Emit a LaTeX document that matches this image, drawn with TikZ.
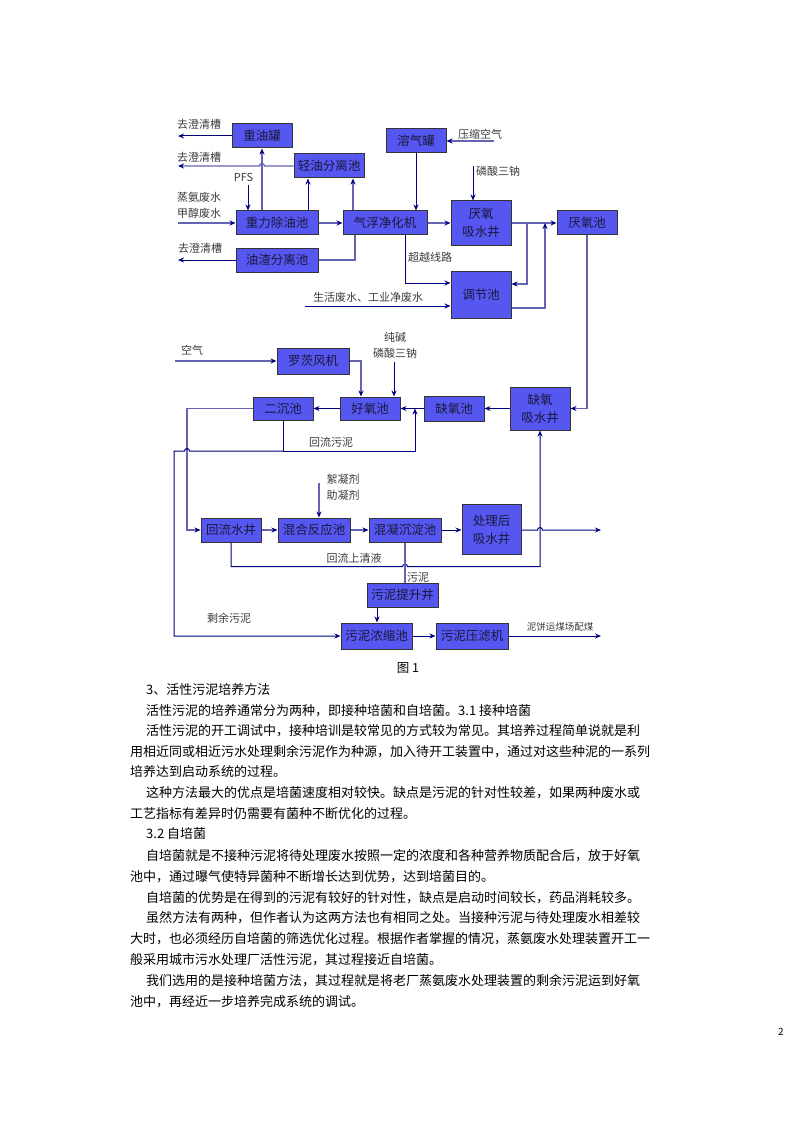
\documentclass[tikz,border=0pt]{standalone}
\usepackage{fontspec}
\setmainfont{Noto Sans CJK SC}
\usetikzlibrary{arrows.meta}
\XeTeXlinebreaklocale "zh"
\XeTeXlinebreakskip=0pt plus 3pt minus 1pt
\definecolor{boxfill}{RGB}{86,86,240}
\definecolor{navy}{RGB}{0,0,128}
\definecolor{lnav}{RGB}{100,100,176}
\definecolor{lbl}{RGB}{60,60,60}
\definecolor{boxtxt}{RGB}{25,25,60}
\tikzset{
 box/.style={draw=black!80, line width=1pt, fill=boxfill, text=boxtxt, font=\fontsize{12.5}{18}\selectfont, inner sep=0pt, align=center},
 flow/.style={draw=navy, line width=1pt},
 flowl/.style={draw=lnav, line width=1.3pt},
 arr/.style={-{Stealth[length=6pt,width=5pt,color=navy]}},
 lab/.style={text=lbl, font=\fontsize{11}{16}\selectfont, inner sep=0pt},
 body/.style={font=\fontsize{13}{15}\selectfont, anchor=west, inner sep=0pt},
}
\begin{document}
\begin{tikzpicture}[x=1pt,y=-1pt]
\fill[white] (0,0) rectangle (794,1123);
\useasboundingbox (0,0) rectangle (794,1123);

% ---------- boxes ----------
\node[box, minimum width=60pt, minimum height=24pt] (zyg) at (262,136) {重油罐};
\node[box, minimum width=70pt, minimum height=24pt] (qyf) at (329,166) {轻油分离池};
\node[box, minimum width=82pt, minimum height=24pt] (zlc) at (277,223) {重力除油池};
\node[box, minimum width=84pt, minimum height=24pt] (qfj) at (385,223) {气浮净化机};
\node[box, minimum width=82pt, minimum height=24pt] (yzf) at (277,260) {油渣分离池};
\node[box, minimum width=60pt, minimum height=24pt] (rqg) at (416,141) {溶气罐};
\node[box, minimum width=60pt, minimum height=44pt] (yxs) at (481,223) {厌氧\\吸水井};
\node[box, minimum width=60pt, minimum height=24pt] (yyc) at (587,223) {厌氧池};
\node[box, minimum width=60pt, minimum height=47pt] (tjc) at (481,294.5) {调节池};

\node[box, minimum width=72pt, minimum height=26pt] (lfj) at (313,361) {罗茨风机};
\node[box, minimum width=60pt, minimum height=23pt] (ecc) at (283,408.5) {二沉池};
\node[box, minimum width=60pt, minimum height=23pt] (hyc) at (370,408.5) {好氧池};
\node[box, minimum width=60pt, minimum height=25pt] (qyc) at (454,408.5) {缺氧池};
\node[box, minimum width=60pt, minimum height=43pt] (qxs) at (540,408.5) {缺氧\\吸水井};

\node[box, minimum width=60pt, minimum height=24pt] (hls) at (231,530) {回流水井};
\node[box, minimum width=72pt, minimum height=24pt] (hhf) at (314,530) {混合反应池};
\node[box, minimum width=72pt, minimum height=24pt] (hnc) at (405,530) {混凝沉淀池};
\node[box, minimum width=59pt, minimum height=50pt] (clh) at (491.5,529.5) {处理后\\吸水井};
\node[box, minimum width=71pt, minimum height=24pt] (wnt) at (402.5,595) {污泥提升井};
\node[box, minimum width=71pt, minimum height=26pt] (wnn) at (376.5,636) {污泥浓缩池};
\node[box, minimum width=72pt, minimum height=26pt] (wny) at (472,636) {污泥压滤机};

% ---------- labels ----------
\node[lab] (l1) at (199,124) {去澄清槽};
\node[lab] (l2) at (199,157) {去澄清槽};
\node[lab] (l3) at (243.5,177) {PFS};
\node[lab, align=left] (l4) at (199,205) {蒸氨废水\\甲醇废水};
\node[lab] (l5) at (200,248) {去澄清槽};
\node[lab] (l6) at (480,134) {压缩空气};
\node[lab] (l7) at (498,171) {磷酸三钠};
\node[lab] (l8) at (430,257) {超越线路};
\node[lab] (l9) at (368,297) {生活废水、工业净废水};
\node[lab] (l10) at (192,350) {空气};
\node[lab, align=center] (l11) at (395,345) {纯碱\\磷酸三钠};
\node[lab] (l12) at (331,442) {回流污泥};
\node[lab, align=center] (l13) at (343,487) {絮凝剂\\助凝剂};
\node[lab] (l14) at (354,558) {回流上清液};
\node[lab] (l15) at (418,577) {污泥};
\node[lab] (l16) at (229,618) {剩余污泥};
\node[lab, font=\fontsize{9.5}{11}\selectfont] (l17) at (560,627) {泥饼运煤场配煤};

% ---------- free ends / bends ----------
\coordinate (e1) at (178,136);
\coordinate (e2) at (178,166);
\coordinate (s3) at (248,185);
\coordinate (s4) at (178,223);
\coordinate (e5) at (178,260);
\coordinate (s6) at (494,141);
\coordinate (s7) at (473,166);
\coordinate (s9) at (305,306);
\coordinate (j1) at (527,223);
\coordinate (j2) at (527,284);
\coordinate (j3) at (545,308);
\coordinate (j4) at (545,223);
\coordinate (j5) at (405,283);
\coordinate (j6) at (587,408.5);
\coordinate (s10) at (175,361);
\coordinate (j7) at (361,361);
\coordinate (s11) at (394,362);
\coordinate (j8) at (187,408.5);
\coordinate (j9) at (187,530);
\coordinate (j10) at (283,451);
\coordinate (j11) at (415,451);
\coordinate (j12) at (174,451);
\coordinate (j13) at (174,636);
\coordinate (e6) at (601,530);
\coordinate (s12) at (319,483);
\coordinate (j14) at (231,566.7);
\coordinate (j15) at (540,566.7);
\coordinate (e7) at (601,636);

% ---------- connectors: top ----------
\draw[flow,arr] (zyg.west) -- (e1);
\draw[flowl,arr] (qyf.west) -- (264.5,166) arc[start angle=0,end angle=-180,radius=2.5] -- (e2);
\draw[flow,arr] (s3) -- (s3 |- zlc.north);
\draw[flowl,arr] (zyg.south |- zlc.north) -- (zyg.south);
\draw[flow,arr] ([xshift=31pt]zlc.north) -- ([xshift=31pt]zlc.north |- qyf.south);
\draw[flowl,arr] (s4) -- (zlc.west);
\draw[flowl,arr] (zlc.east) -- (qfj.west);
\draw[flowl,arr] ([xshift=-32pt]qfj.north) -- ([xshift=-32pt]qfj.north |- qyf.south);
\draw[flowl] ([xshift=-30pt]qfj.south) |- (yzf.east);
\draw[flow,arr] (yzf.west) -- (e5);
\draw[flow,arr] (rqg.south) -- (rqg.south |- qfj.north);
\draw[flowl,arr] (s6) -- (s6 -| rqg.east);
\draw[flow,arr] (s7) -- (s7 |- yxs.north);
\draw[flowl,arr] (qfj.east) -- (yxs.west);
\draw[flowl,arr] (yxs.east) -- (yyc.west);
\draw[flowl,arr] (j1) -- (j2) -- (j2 -| tjc.east);
\draw[flowl,arr] (j3 -| tjc.east) -- (j3) -- (j4);
\draw[flow,arr] (j5 |- qfj.south) -- (j5) -- (j5 -| tjc.west);
\draw[flow,arr] (s9) -- (s9 -| tjc.west);
\draw[flowl,arr] (yyc.south) -- (j6) -- (qxs.east);

% ---------- connectors: middle ----------
\draw[flowl,arr] (s10) -- (lfj.west);
\draw[flowl,arr] (lfj.east) -- (j7) -- (j7 |- hyc.north);
\draw[flow,arr] (s11) -- (s11 |- hyc.north);
\draw[flow,arr] (qxs.west) -- (qyc.east);
\draw[flow,arr] (qyc.west) -- (hyc.east);
\draw[flow,arr] (hyc.west) -- (ecc.east);
\draw[flowl,arr] (ecc.west) -- (j8) -- (j9) -- (hls.west);
\draw[flow,arr] (ecc.south) -- (j10) -- (j11) -- (j11 |- hyc.east);
\draw[flow,arr] (j10) -- (189.5,451) arc[start angle=0,end angle=-180,radius=2.5] -- (j12) -- (j13) -- (wnn.west);

% ---------- connectors: bottom ----------
\draw[flowl,arr] (hls.east) -- (hhf.west);
\draw[flowl,arr] (hhf.east) -- (hnc.west);
\draw[flow,arr] (hnc.east) -- (clh.west |- hnc.east);
\draw[flow,arr] (clh.east |- hnc.east) -- (537.5,530) arc[start angle=180,end angle=360,radius=2.5] -- (e6);
\draw[flowl,arr] (s12) -- (s12 |- hhf.north);
\draw[flow,arr] (hls.south) -- (j14) -- (402.5,566.7) arc[start angle=180,end angle=360,radius=2.5] -- (j15) -- (qxs.south);
\draw[flowl] (hnc.south) -- (hnc.south |- wnt.north);
\draw[flow,arr] ([xshift=-25.5pt]wnt.south) -- ([xshift=-25.5pt]wnt.south |- wnn.north);
\draw[flow,arr] (wnn.east) -- (wny.west);
\draw[flow,arr] (wny.east) -- (e7);

\node[font=\fontsize{12.5}{14}\selectfont, inner sep=0pt] (cap) at (408,668) {图 1};

% ---------- body text ----------
\node[body] (t1) at (146,690) {3、活性污泥培养方法};
\node[body] (t2) at (146,711) {活性污泥的培养通常分为两种，即接种培菌和自培菌。3.1 接种培菌};
\node[body] (t3) at (146,731) {\makebox[492pt][s]{活性污泥的开工调试中，接种培训是较常见的方式较为常见。其培养过程简单说就是利}};
\node[body] (t4) at (130,752) {\makebox[508pt][s]{用相近同或相近污水处理剩余污泥作为种源，加入待开工装置中，通过对这些种泥的一系列}};
\node[body] (t5) at (130,772) {培养达到启动系统的过程。};
\node[body] (t6) at (146,793) {\makebox[492pt][s]{这种方法最大的优点是培菌速度相对较快。缺点是污泥的针对性较差，如果两种废水或}};
\node[body] (t7) at (130,814) {工艺指标有差异时仍需要有菌种不断优化的过程。};
\node[body] (t8) at (146,834) {3.2 自培菌};
\node[body] (t9) at (146,856) {\makebox[492pt][s]{自培菌就是不接种污泥将待处理废水按照一定的浓度和各种营养物质配合后，放于好氧}};
\node[body] (t10) at (130,877) {池中，通过曝气使特异菌种不断增长达到优势，达到培菌目的。};
\node[body] (t11) at (146,898) {\makebox[490pt][s]{自培菌的优势是在得到的污泥有较好的针对性，缺点是启动时间较长，药品消耗较多。}};
\node[body] (t12) at (146,918) {\makebox[492pt][s]{虽然方法有两种，但作者认为这两方法也有相同之处。当接种污泥与待处理废水相差较}};
\node[body] (t13) at (130,939) {\makebox[508pt][s]{大时，也必须经历自培菌的筛选优化过程。根据作者掌握的情况，蒸氨废水处理装置开工一}};
\node[body] (t14) at (130,960) {般采用城市污水处理厂活性污泥，其过程接近自培菌。};
\node[body] (t15) at (146,981) {\makebox[492pt][s]{我们选用的是接种培菌方法，其过程就是将老厂蒸氨废水处理装置的剩余污泥运到好氧}};
\node[body] (t16) at (130,1002) {池中，再经近一步培养完成系统的调试。};

\node[font=\fontsize{10}{12}\selectfont, inner sep=0pt] (pg) at (781,1032) {2};
\end{tikzpicture}
\end{document}
